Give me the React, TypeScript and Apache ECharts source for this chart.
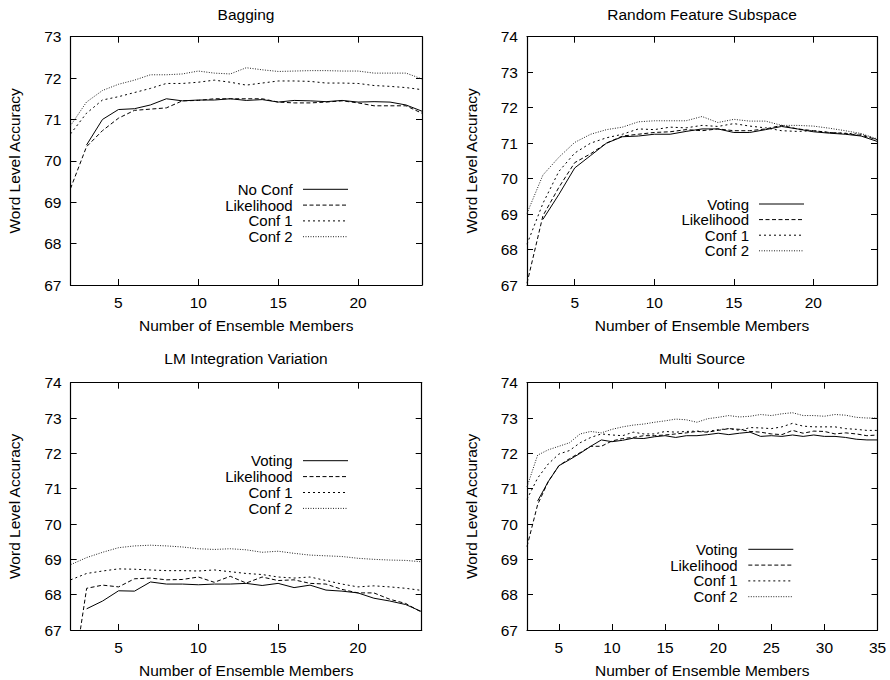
import React, { useEffect, useRef } from "react";
import * as echarts from "echarts";

// Ensemble sizes on the x axis
const membersShort = [2, 3, 4, 5, 6, 7, 8, 9, 10, 11, 12, 13, 14, 15, 16, 17, 18, 19, 20, 21, 22, 23, 24];
const membersLong = [
  2, 3, 4, 5, 6, 7, 8, 9, 10, 11, 12, 13, 14, 15, 16, 17, 18, 19, 20, 21, 22, 23, 24, 25, 26, 27, 28, 29, 30,
  31, 32, 33, 34, 35,
];

const ticksShort = [5, 10, 15, 20];
const ticksLong = [5, 10, 15, 20, 25, 30, 35];

const baggingNames = ["No Conf", "Likelihood", "Conf 1", "Conf 2"];
const methodNames = ["Voting", "Likelihood", "Conf 1", "Conf 2"];

// Bagging
const baggingNoConf = [null, 70.38, 71.0, 71.24, 71.26, 71.35, 71.5, 71.45, 71.47, 71.47, 71.5, 71.46, 71.48, 71.42, 71.46, 71.45, 71.43, 71.46, 71.42, 71.43, 71.42, 71.35, 71.2];
const baggingLikelihood = [69.33, 70.34, 70.73, 71.03, 71.22, 71.25, 71.28, 71.45, 71.46, 71.5, 71.5, 71.5, 71.5, 71.42, 71.4, 71.4, 71.42, 71.45, 71.4, 71.33, 71.33, 71.33, 71.15];
const baggingConf1 = [70.65, 71.15, 71.47, 71.55, 71.65, 71.75, 71.87, 71.87, 71.9, 71.95, 71.9, 71.83, 71.88, 71.93, 71.93, 71.92, 71.88, 71.88, 71.87, 71.82, 71.8, 71.77, 71.72];
const baggingConf2 = [70.85, 71.42, 71.7, 71.85, 71.95, 72.08, 72.08, 72.1, 72.17, 72.12, 72.1, 72.25, 72.2, 72.16, 72.17, 72.18, 72.18, 72.17, 72.17, 72.12, 72.12, 72.12, 71.98];

// Random Feature Subspace
const rfsVoting = [null, 68.85, 69.55, 70.3, 70.65, 71.0, 71.18, 71.2, 71.25, 71.25, 71.33, 71.4, 71.4, 71.3, 71.3, 71.38, 71.47, 71.4, 71.32, 71.28, 71.25, 71.2, 71.05];
const rfsLikelihood = [67.05, 68.95, 69.75, 70.45, 70.7, 71.0, 71.2, 71.25, 71.3, 71.32, 71.38, 71.35, 71.4, 71.35, 71.35, 71.4, 71.5, 71.4, 71.35, 71.3, 71.27, 71.22, 71.1];
const rfsConf1 = [68.15, 69.3, 70.2, 70.72, 71.0, 71.15, 71.25, 71.4, 71.38, 71.45, 71.43, 71.5, 71.47, 71.55, 71.48, 71.43, 71.35, 71.33, 71.35, 71.3, 71.28, 71.25, 71.1];
const rfsConf2 = [69.02, 70.1, 70.6, 71.02, 71.25, 71.38, 71.45, 71.6, 71.63, 71.63, 71.63, 71.75, 71.58, 71.67, 71.62, 71.62, 71.5, 71.5, 71.48, 71.42, 71.35, 71.27, 71.12];

// LM Integration Variation
const lmVoting = [null, 67.6, 67.82, 68.11, 68.1, 68.36, 68.3, 68.3, 68.28, 68.3, 68.3, 68.32, 68.26, 68.32, 68.2, 68.27, 68.13, 68.1, 68.05, 67.9, 67.82, 67.72, 67.52];
const lmLikelihood = [65.2, 68.18, 68.27, 68.22, 68.45, 68.47, 68.42, 68.43, 68.5, 68.35, 68.52, 68.33, 68.5, 68.4, 68.42, 68.32, 68.3, 68.15, 68.05, 68.05, 67.87, 67.75, 67.5];
const lmConf1 = [68.42, 68.6, 68.67, 68.73, 68.72, 68.7, 68.68, 68.68, 68.67, 68.7, 68.65, 68.6, 68.57, 68.5, 68.47, 68.5, 68.4, 68.3, 68.22, 68.25, 68.22, 68.18, 68.12];
const lmConf2 = [68.85, 69.05, 69.2, 69.33, 69.38, 69.4, 69.38, 69.35, 69.3, 69.28, 69.3, 69.27, 69.2, 69.23, 69.17, 69.12, 69.1, 69.08, 69.03, 69.0, 68.98, 68.97, 68.93];

// Multi Source
const msVoting = [null, 70.65, 71.2, 71.65, 71.82, 72.0, 72.2, 72.38, 72.33, 72.37, 72.43, 72.42, 72.47, 72.5, 72.45, 72.5, 72.5, 72.53, 72.57, 72.53, 72.57, 72.6, 72.48, 72.5, 72.48, 72.52, 72.48, 72.52, 72.48, 72.48, 72.45, 72.4, 72.38, 72.38];
const msLikelihood = [69.36, 70.55, 71.2, 71.65, 71.85, 72.02, 72.2, 72.2, 72.35, 72.42, 72.45, 72.5, 72.5, 72.52, 72.55, 72.58, 72.62, 72.6, 72.65, 72.7, 72.68, 72.62, 72.6, 72.55, 72.53, 72.65, 72.57, 72.63, 72.62, 72.55, 72.58, 72.55, 72.5, 72.52];
const msConf1 = [70.7, 71.3, 71.7, 71.98, 72.08, 72.3, 72.45, 72.55, 72.52, 72.5, 72.6, 72.55, 72.55, 72.62, 72.6, 72.62, 72.63, 72.62, 72.67, 72.7, 72.65, 72.73, 72.72, 72.7, 72.75, 72.85, 72.77, 72.75, 72.75, 72.75, 72.7, 72.68, 72.65, 72.65];
const msConf2 = [71.05, 71.95, 72.1, 72.2, 72.3, 72.55, 72.62, 72.58, 72.68, 72.75, 72.8, 72.83, 72.88, 72.92, 72.97, 72.95, 72.88, 72.98, 73.02, 73.07, 73.03, 73.05, 73.1, 73.07, 73.12, 73.15, 73.07, 73.07, 73.05, 73.1, 73.08, 73.02, 73.0, 73.0];

const FONT = '"Liberation Sans", Helvetica, Arial, sans-serif';
const FS = 15.5;
const KEY_FS = 15;
const INK = "#000";

// gnuplot-like line types: solid, long dash, short dash, dotted
const lineTypes: any[] = ["solid", [4, 2.5], [2, 3], [1, 1.5]];
const lineColors = ["#000", "#000", "#000", "#222"];

type Panel = {
  title: string;
  names: string[];
  members: number[];
  series: (number | null)[][];
  xMax: number;
  yMax: number;
  xTicks: number[];
  grid: { left: number; top: number; width: number; height: number };
  titleAt: [number, number];
  legend: { textRight: number; x1: number; x2: number; rows: number[] };
};

const panels: Panel[] = [
  {
    title: "Bagging",
    names: baggingNames,
    members: membersShort,
    series: [baggingNoConf, baggingLikelihood, baggingConf1, baggingConf2],
    xMax: 24,
    yMax: 73,
    xTicks: ticksShort,
    grid: { left: 70.5, top: 36.7, width: 351.5, height: 248.3 },
    titleAt: [246, 14],
    legend: { textRight: 292.7, x1: 303, x2: 348, rows: [189.3, 205.1, 220.9, 236.7] },
  },
  {
    title: "Random Feature Subspace",
    names: methodNames,
    members: membersShort,
    series: [rfsVoting, rfsLikelihood, rfsConf1, rfsConf2],
    xMax: 24,
    yMax: 74,
    xTicks: ticksShort,
    grid: { left: 527, top: 36.7, width: 350, height: 248.3 },
    titleAt: [702, 14],
    legend: { textRight: 749, x1: 759, x2: 804, rows: [204, 219.6, 235.2, 250.8] },
  },
  {
    title: "LM Integration Variation",
    names: methodNames,
    members: membersShort,
    series: [lmVoting, lmLikelihood, lmConf1, lmConf2],
    xMax: 24,
    yMax: 74,
    xTicks: ticksShort,
    grid: { left: 70.7, top: 382.7, width: 351, height: 247.3 },
    titleAt: [246, 358.3],
    legend: { textRight: 292.7, x1: 303, x2: 348, rows: [460.7, 476.6, 492.5, 508.4] },
  },
  {
    title: "Multi Source",
    names: methodNames,
    members: membersLong,
    series: [msVoting, msLikelihood, msConf1, msConf2],
    xMax: 35,
    yMax: 74,
    xTicks: ticksLong,
    grid: { left: 527, top: 382.7, width: 350.5, height: 247.3 },
    titleAt: [702, 358.3],
    legend: { textRight: 737.7, x1: 748.3, x2: 793.3, rows: [549.3, 565.1, 580.9, 596.7] },
  },
];

function buildOption() {
  const grid: any[] = [];
  const xAxis: any[] = [];
  const yAxis: any[] = [];
  const series: any[] = [];
  const graphic: any[] = [];

  const frameLine = { show: true, onZero: false, lineStyle: { color: INK, width: 1.2 } };
  const tick = { show: true, inside: true, length: 6, lineStyle: { color: INK, width: 1 } };
  const labelStyle = { color: INK, fontFamily: FONT, fontSize: FS };

  panels.forEach((p, gi) => {
    grid.push({ ...p.grid, show: false, containLabel: false, outerBoundsMode: "none" });

    // bottom axis with labels, top mirror axis with ticks only
    xAxis.push({
      type: "value",
      gridIndex: gi,
      position: "bottom",
      min: 2,
      max: p.xMax,
      axisLine: frameLine,
      axisTick: { ...tick, customValues: p.xTicks },
      axisLabel: { ...labelStyle, margin: 9, customValues: p.xTicks },
      splitLine: { show: false },
      name: "Number of Ensemble Members",
      nameLocation: "middle",
      nameGap: 32,
      nameTextStyle: labelStyle,
    });
    xAxis.push({
      type: "value",
      gridIndex: gi,
      position: "top",
      min: 2,
      max: p.xMax,
      axisLine: frameLine,
      axisTick: { ...tick, customValues: p.xTicks },
      axisLabel: { show: false },
      splitLine: { show: false },
    });

    // left axis with labels, right mirror axis with ticks only
    yAxis.push({
      type: "value",
      gridIndex: gi,
      position: "left",
      min: 67,
      max: p.yMax,
      interval: 1,
      axisLine: frameLine,
      axisTick: tick,
      axisLabel: { ...labelStyle, margin: 9 },
      splitLine: { show: false },
      name: "Word Level Accuracy",
      nameLocation: "middle",
      nameRotate: 90,
      nameGap: 48,
      nameTextStyle: labelStyle,
    });
    yAxis.push({
      type: "value",
      gridIndex: gi,
      position: "right",
      min: 67,
      max: p.yMax,
      interval: 1,
      axisLine: frameLine,
      axisTick: tick,
      axisLabel: { show: false },
      splitLine: { show: false },
    });

    p.series.forEach((vals, si) => {
      const data: number[][] = [];
      vals.forEach((v, i) => {
        if (v !== null) data.push([p.members[i], v]);
      });
      series.push({
        type: "line",
        name: `${p.title} - ${p.names[si]}`,
        xAxisIndex: gi * 2,
        yAxisIndex: gi * 2,
        data,
        symbol: "none",
        showSymbol: false,
        clip: true,
        silent: true,
        lineStyle: { color: lineColors[si], width: 1, type: lineTypes[si] },
      });
    });

    // panel title
    graphic.push({
      type: "text",
      x: p.titleAt[0],
      y: p.titleAt[1],
      silent: true,
      style: {
        text: p.title,
        fill: INK,
        font: `${FS}px ${FONT}`,
        textAlign: "center",
        textVerticalAlign: "middle",
      },
    });

    // key: right-aligned labels with line samples to their right
    p.names.forEach((n, si) => {
      const y = p.legend.rows[si];
      graphic.push({
        type: "text",
        x: p.legend.textRight,
        y,
        silent: true,
        style: {
          text: n,
          fill: INK,
          font: `${KEY_FS}px ${FONT}`,
          textAlign: "right",
          textVerticalAlign: "middle",
        },
      });
      graphic.push({
        type: "line",
        silent: true,
        shape: { x1: p.legend.x1, y1: y, x2: p.legend.x2, y2: y },
        style: {
          stroke: lineColors[si],
          lineWidth: 1,
          lineDash: lineTypes[si] === "solid" ? null : lineTypes[si],
        },
      });
    });
  });

  return {
    animation: false,
    backgroundColor: "#fff",
    grid,
    xAxis,
    yAxis,
    series,
    graphic,
  };
}

export default function App() {
  const ref = useRef<HTMLDivElement>(null);

  useEffect(() => {
    if (!ref.current) return;
    const chart = echarts.init(ref.current, null, { renderer: "svg" });
    chart.setOption(buildOption() as any);
    return () => chart.dispose();
  }, []);

  return (
    <div
      ref={ref}
      style={{ position: "fixed", left: 0, top: 0, width: 890, height: 680, background: "#fff" }}
    />
  );
}
